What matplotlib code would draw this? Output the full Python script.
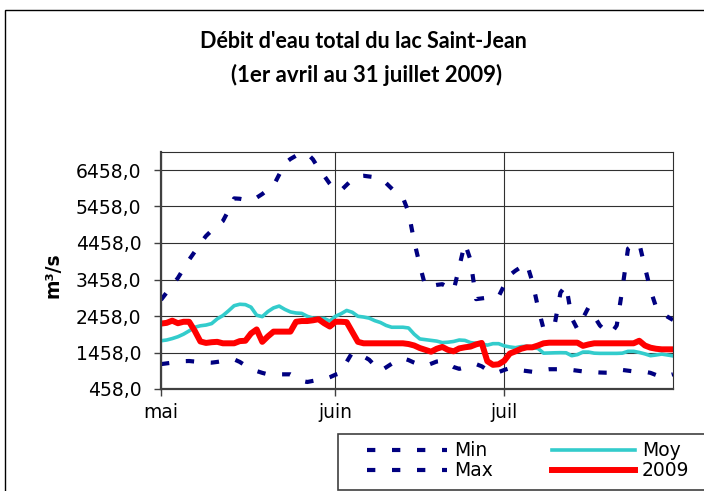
import matplotlib
matplotlib.use("Agg")
import matplotlib.pyplot as plt
from matplotlib.lines import Line2D
from matplotlib.patches import Rectangle
import pandas as pd

# -------------------------------
# DATA (daily values, 1 May -> 31 July 2009, m3/s)
# -------------------------------
days = pd.date_range("2009-05-01", "2009-07-31", freq="D")

q_max = [2900, 3100, 3300, 3500, 3750, 4000, 4220, 4450, 4650, 4800,
         4930, 5060, 5350, 5680, 5670, 5640, 5620, 5700, 5800, 5920,
         6030, 6330, 6640, 6760, 6850, 6900, 6910, 6750, 6500, 6300,
         6080, 5900, 5900, 6050, 6200, 6290, 6300, 6280, 6260, 6230,
         6100, 5950, 5800, 5700, 5300, 4500, 3850, 3260, 3280, 3310,
         3330, 3250, 3150, 3800, 4450, 4000, 2920, 2940, 2960, 2970,
         2990, 3300, 3580, 3700, 3800, 3900, 3400, 2700, 2100, 2150,
         2250, 3100, 3300, 2400, 2100, 2400, 2700, 2450, 2200, 2050,
         1980, 2200, 3200, 4300, 4420, 4450, 3800, 3170, 2700, 2550,
         2440, 2350]

q_min = [1140, 1160, 1180, 1200, 1220, 1225, 1210, 1195, 1185, 1180,
         1200, 1225, 1250, 1270, 1200, 1100, 1010, 950, 900, 860,
         860, 860, 860, 860, 780, 680, 650, 680, 710, 725,
         780, 850, 900, 1200, 1460, 1420, 1350, 1260, 1100, 950,
         1050, 1150, 1250, 1300, 1250, 1180, 1120, 1090, 1150, 1210,
         1230, 1150, 1060, 1010, 1050, 1100, 1140, 1080, 980, 900,
         920, 980, 1030, 1000, 970, 950, 930, 950, 980, 1000,
         1000, 1000, 1005, 980, 960, 940, 930, 920, 910, 905,
         905, 940, 980, 960, 940, 935, 930, 900, 840, 780,
         820, 860]

q_moy = [1780, 1800, 1840, 1890, 1960, 2050, 2150, 2190, 2210, 2250,
         2380, 2470, 2600, 2740, 2780, 2770, 2700, 2480, 2440, 2580,
         2680, 2730, 2640, 2570, 2540, 2530, 2450, 2400, 2395, 2390,
         2320, 2450, 2520, 2610, 2560, 2450, 2430, 2400, 2330, 2280,
         2200, 2150, 2150, 2150, 2130, 1960, 1830, 1810, 1790, 1770,
         1730, 1740, 1760, 1800, 1790, 1730, 1710, 1690, 1660, 1700,
         1700, 1640, 1610, 1590, 1620, 1630, 1590, 1570, 1440, 1445,
         1450, 1453, 1450, 1370, 1400, 1470, 1470, 1440, 1434, 1434,
         1434, 1434, 1440, 1490, 1490, 1460, 1420, 1370, 1390, 1415,
         1390, 1365]

q_2009 = [2250, 2270, 2330, 2260, 2300, 2300, 2050, 1760, 1720, 1740,
          1750, 1710, 1710, 1710, 1770, 1780, 1980, 2090, 1750, 1900,
          2030, 2030, 2030, 2030, 2300, 2320, 2320, 2340, 2370, 2260,
          2170, 2300, 2300, 2290, 2020, 1750, 1710, 1710, 1710, 1710,
          1710, 1710, 1710, 1710, 1690, 1650, 1580, 1530, 1480, 1560,
          1610, 1530, 1490, 1570, 1600, 1620, 1680, 1720, 1220, 1120,
          1135, 1230, 1430, 1490, 1560, 1600, 1600, 1650, 1710, 1727,
          1727, 1727, 1727, 1727, 1727, 1640, 1680, 1710, 1710, 1710,
          1710, 1710, 1710, 1710, 1710, 1780, 1650, 1590, 1560, 1545,
          1545, 1545]

month_ticks = ["2009-05-01", "2009-06-01", "2009-07-01"]
month_labels = ["mai", "juin", "juil"]
y_ticks = [458, 1458, 2458, 3458, 4458, 5458, 6458]

# -------------------------------
# STYLES
# -------------------------------
FS = 13.5
NAVY = "#000080"
styles = {
    "Min": dict(color=NAVY, lw=3, dashes=(2, 4)),
    "Max": dict(color=NAVY, lw=3, dashes=(2, 4)),
    "Moy": dict(color="#33CCCC", lw=2.6),
    "2009": dict(color="#FF0000", lw=4.3),
}

fig = plt.figure(figsize=(7.04, 4.91), dpi=100)
ax = fig.add_axes([161 / 704, 1 - 389 / 491, 512 / 704, (389 - 151.75) / 491])

ax.plot(days, q_min, **styles["Min"])
ax.plot(days, q_max, **styles["Max"])
ax.plot(days, q_moy, **styles["Moy"])
ax.plot(days, q_2009, **styles["2009"], solid_capstyle="butt")

ax.set_xlim(days[0], days[-1])
ax.set_ylim(458, 6958)
ax.set_yticks(y_ticks)
ax.set_yticklabels([f"{v:.1f}".replace(".", ",") for v in y_ticks])
ax.set_xticks(pd.to_datetime(month_ticks))
ax.set_xticklabels(month_labels)
ax.tick_params(axis="both", labelsize=FS, length=5, width=1, color="#404040", pad=9)
ax.tick_params(axis="x", pad=5)

ax.grid(True, color="#303030", linewidth=0.8)
ax.set_axisbelow(True)
for side in ["top", "right"]:
    ax.spines[side].set_color("#303030")
    ax.spines[side].set_linewidth(0.8)
for side in ["left", "bottom"]:
    ax.spines[side].set_color("#404040")
    ax.spines[side].set_linewidth(1.6)

ax.set_ylabel("m³/s", fontsize=FS, fontweight="bold")
ax.yaxis.set_label_coords((62 - 161) / 512, (389 - 275) / 237.25)

# -------------------------------
# TITLE
# -------------------------------
fig.text(363 / 704, 1 - 42 / 491, "Débit d'eau total du lac Saint-Jean",
         ha="center", va="center", fontsize=15.5, fontweight="bold", family="Lato")
fig.text(367 / 704, 1 - 75 / 491, "(1er avril au 31 juillet 2009)",
         ha="center", va="center", fontsize=16, fontweight="bold", family="Lato")

# chart border
fig.add_artist(Rectangle((5 / 704, -0.1), 1.2, 1 - 10 / 491 + 0.1, transform=fig.transFigure,
                         fill=False, edgecolor="black", linewidth=1))

# -------------------------------
# LEGEND (drawn in figure pixels)
# -------------------------------
def px(x, y):
    return x / 704, 1 - y / 491

fig.add_artist(Rectangle(px(338, 490), 400 / 704, 56 / 491, transform=fig.transFigure,
                         fill=True, facecolor="white", edgecolor="#404040", linewidth=1.2))
entries = [("Min", 367, 447, 450), ("Max", 367, 447, 470),
           ("Moy", 552, 635, 450), ("2009", 552, 635, 470)]
for name, x0, x1, y in entries:
    (a, b), (c, d) = px(x0, y), px(x1, y)
    st = dict(styles[name])
    fig.add_artist(Line2D([a, c], [b, d], transform=fig.transFigure, **st))
    fig.text(x1 / 704 + 7 / 704, b, name, ha="left", va="center", fontsize=FS)

fig.savefig("out.png", dpi=100)
